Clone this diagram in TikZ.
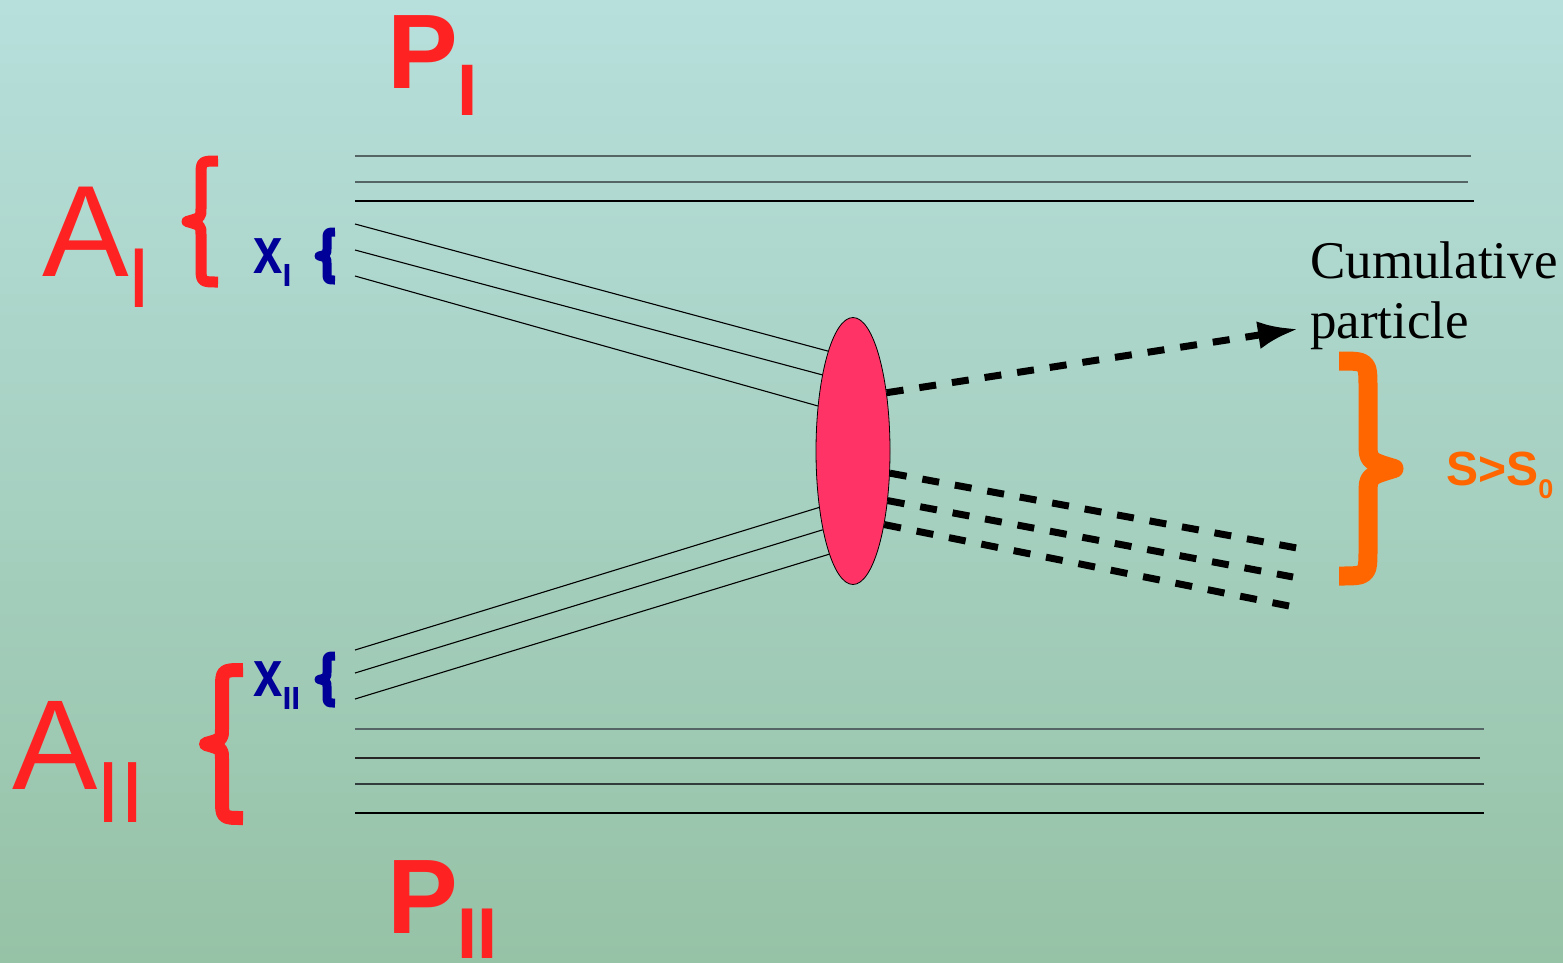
\documentclass[tikz,border=0pt]{standalone}
\usepackage{fontspec}
\setmainfont{Liberation Serif}
\setsansfont{Liberation Sans}
\usepackage{graphicx}
\usepackage{tikz}
\usetikzlibrary{arrows.meta,shapes.geometric}
\definecolor{bgtop}{RGB}{183,223,220}
\definecolor{bgbot}{RGB}{150,194,166}
\definecolor{nucred}{RGB}{255,34,34}
\definecolor{partblue}{RGB}{0,0,153}
\definecolor{cumorange}{RGB}{255,102,0}
\definecolor{blobred}{RGB}{255,51,102}
\definecolor{beamgray}{RGB}{85,100,100}
\newcommand{\fsz}[1]{\fontsize{#1}{#1}\selectfont}
% curly brace: end x, stem x, tip x, top y, bottom y, tail bend, tip bend
\newcommand{\curly}[7]{(#1,#4) .. controls (#2,#4) .. (#2,{#4+#6})
  -- (#2,{(#4+#5)/2-#7}) .. controls (#2,{(#4+#5)/2-0.3*#7}) .. (#3,{(#4+#5)/2})
  .. controls (#2,{(#4+#5)/2+0.3*#7}) .. (#2,{(#4+#5)/2+#7})
  -- (#2,{#5-#6}) .. controls (#2,#5) .. (#1,#5)}
\begin{document}
\begin{tikzpicture}[x=1pt,y=-1pt,
lbl/.style={inner sep=0,anchor=base west},
beam/.style={line width=1.2pt},
quark/.style={line width=1.1pt,black},
jet/.style={line width=7pt,dash pattern=on 17pt off 16pt},
arr/.style={jet,-{Latex[length=40pt,width=28pt]}},
curlybr/.style={line width=#1,line join=round}]
\useasboundingbox (0,0) rectangle (1563,962);
\fill[top color=bgtop,bottom color=bgbot] (0,0) rectangle (1563,962);

% beams
\foreach \y/\xe/\c in {156/1471/beamgray,182/1468/beamgray,201/1474/black,
  729/1484/beamgray,758/1480/black!85,784/1484/beamgray!60!black,813/1484/black}
  \draw[beam,\c] (355,\y) -- (\xe,\y);

% fireball
\node[draw,ellipse,fill=blobred,line width=0.8pt,minimum width=74pt,
  minimum height=267pt,inner sep=0] (blob) at (853,451) {};

\foreach \i/\y/\a in {1/224/104,2/250/112,3/276/128.5} {
  \coordinate (qa\i) at (355,\y);
  \draw[quark] (qa\i) -- (blob.\a);}
\foreach \i/\y/\a in {1/650/239,2/673/249,3/699/257} {
  \coordinate (qb\i) at (355,\y);
  \draw[quark] (qb\i) -- (blob.\a);}

\coordinate (cum) at (1298,329);
\draw[arr] (blob.60) -- (cum);
\foreach \i/\a/\x/\y in {1/329/1297/548,2/305/1293/577,3/293/1289/606} {
  \coordinate (jet\i) at (\x,\y);
  \draw[jet] (blob.\a) -- (jet\i);}

% labels
\node[lbl,nucred,font=\sffamily\bfseries\fsz{106}] (pI) at (387,88) {P\raisebox{-27pt}{\fsz{73}I}};
\node[lbl,nucred,font=\sffamily\bfseries\fsz{106}] (pII) at (387,933) {P\raisebox{-25pt}{\fsz{72}II}};
\node[lbl,nucred,font=\sffamily\fsz{130}] (aI) at (42,276) {A\kern-1pt\raisebox{-31pt}{\fsz{85}I}};
\node[lbl,nucred,font=\sffamily\fsz{128}] (aII) at (12,789) {A\kern-1pt\raisebox{-33pt}{\fsz{87}II}};
\node[lbl,partblue,font=\sffamily\bfseries\fsz{66}] (xI) at (253,273) {\scalebox{0.8}[1]{x}\raisebox{-13pt}{\fsz{32}I}};
\node[lbl,partblue,font=\sffamily\bfseries\fsz{66}] (xII) at (253,696) {\scalebox{0.8}[1]{x}\raisebox{-13pt}{\fsz{32}II}};
\node[lbl,align=left,font=\fontsize{53}{60}\selectfont] (cumlbl) at (1310,338) {Cumulative\\particle};
\node[lbl,cumorange,font=\sffamily\bfseries\fsz{48}] (ss) at (1446,485) {S>S\raisebox{-13pt}{\fsz{27}0}};

% braces
\draw[curlybr=11pt,nucred] \curly{218}{201}{187}{161}{282}{16}{13};
\draw[curlybr=14pt,nucred] \curly{243}{222}{206}{670}{818}{20}{15};
\draw[curlybr=9pt,partblue] \curly{335}{327}{319}{232}{280}{8}{7};
\draw[curlybr=9pt,partblue] \curly{335}{327}{319}{656}{703}{8}{7};
\draw[curlybr=19pt,cumorange] \curly{1339}{1368}{1394}{361}{576}{28}{26};
\end{tikzpicture}
\end{document}
